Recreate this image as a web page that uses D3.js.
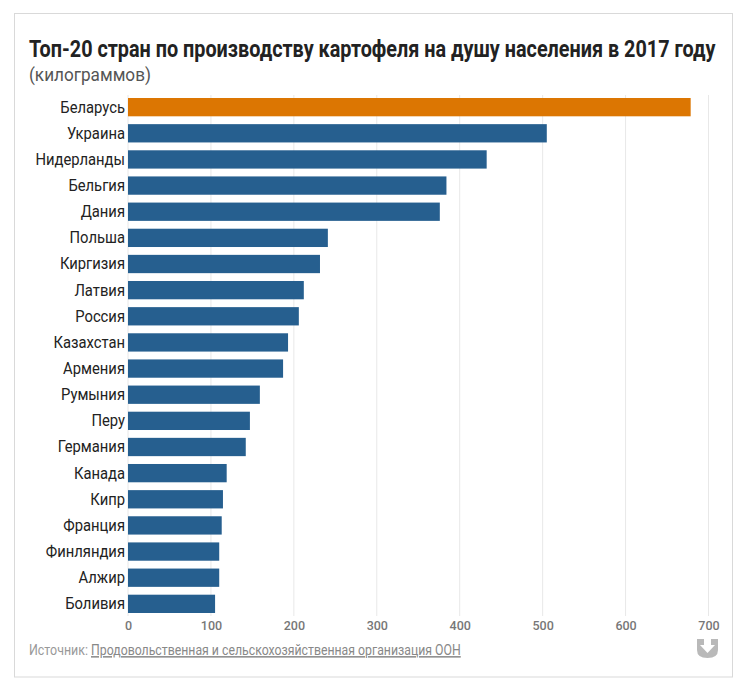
<!DOCTYPE html>
<html>
<head>
<meta charset="utf-8">
<script src="https://cdn.jsdelivr.net/npm/d3@7"></script>
<style>
  body { margin: 0; background: #fff; }
  text { font-family: Roboto, sans-serif; }
  .title { font-size: 23px; font-weight: 700; fill: #222; }
  .subtitle { font-size: 19px; fill: #555; }
  .y.axis text { font-size: 17px; fill: #222; }
  .x.axis text { font-size: 12.5px; font-weight: 500; fill: #777; }
  .source { font-size: 15px; fill: #999; }
  .source-link { fill: #888; text-decoration: underline; }
  .grid line { stroke: #e8e8e8; stroke-width: 1; }
</style>
</head>
<body>
<svg width="746" height="685"></svg>
<script>
var countries = ["Беларусь", "Украина", "Нидерланды", "Бельгия", "Дания", "Польша", "Киргизия",
  "Латвия", "Россия", "Казахстан", "Армения", "Румыния", "Перу", "Германия", "Канада", "Кипр",
  "Франция", "Финляндия", "Алжир", "Боливия"];
var kilograms = [678.5, 505, 432.5, 384, 376, 241, 231.5, 212, 206, 193, 187, 159, 147, 142, 119, 114.5, 113, 110, 110, 105];
var xTicks = [0, 100, 200, 300, 400, 500, 600, 700];

var svg = d3.select("svg"),
    margin = {top: 95, right: 37.5, bottom: 69, left: 128},
    width = +svg.attr("width") - margin.left - margin.right,
    height = +svg.attr("height") - margin.top - margin.bottom;

// the original font is condensed, so squeeze Roboto to the wanted width
function addText(cls, px, py, w, str) {
  var t = svg.append("text").attr("class", cls).text(str);
  var k = w / t.node().getComputedTextLength();
  t.attr("transform", "translate(" + px + "," + py + ") scale(" + k + ",1)");
}

// frame
svg.append("rect")
    .attr("x", 14.5).attr("y", 13.5)
    .attr("width", 718).attr("height", 663.5)
    .attr("fill", "#fff").attr("stroke", "#d9d9d9");

// add scales
var x = d3.scaleLinear().domain([0, 700]).range([0, width]),
    y = d3.scaleBand().domain(countries).range([0, height]).paddingInner(0.3).paddingOuter(0.115);

var chart = svg.append("g")
    .attr("transform", "translate(" + margin.left + "," + margin.top + ")");

// gridlines
chart.append("g")
    .attr("class", "grid")
    .selectAll("line")
    .data(xTicks)
  .enter().append("line")
    .attr("x1", function(d) { return x(d); })
    .attr("x2", function(d) { return x(d); })
    .attr("y1", 0)
    .attr("y2", height);

// x-axis
chart.append("g")
    .attr("class", "x axis")
    .attr("transform", "translate(0," + height + ")")
    .call(d3.axisBottom(x).tickValues(xTicks).tickSize(0).tickPadding(5))
    .call(function(g) { g.select(".domain").remove(); });

// y-axis
chart.append("g")
    .attr("class", "y axis")
    .call(d3.axisLeft(y).tickSize(0).tickPadding(0))
    .call(function(g) { g.select(".domain").remove(); })
    .selectAll("text")
    .attr("x", 0)
    .attr("transform", "translate(-3,0) scale(0.87,1)");

// bars
chart.selectAll(".bar")
    .data(countries)
  .enter().append("rect")
    .attr("class", "bar")
    .attr("x", 0)
    .attr("y", function(d) { return y(d); })
    .attr("width", function(d, i) { return x(kilograms[i]); })
    .attr("height", y.bandwidth())
    .attr("fill", function(d, i) { return i === 0 ? "#dc7602" : "#265f8f"; });

// title block
addText("title", 29, 57, 687, "Топ-20 стран по производству картофеля на душу населения в 2017 году");
addText("subtitle", 29, 81, 122, "(килограммов)");

// source
addText("source", 29, 655, 59, "Источник:");
addText("source source-link", 91, 655, 370, "Продовольственная и сельскохозяйственная организация ООН");

// logo
svg.append("path")
    .attr("d", "M697 639H704V645H700L707.5 653L715 645H711V639H718V650Q718 658 707.5 658Q697 658 697 650Z")
    .attr("fill", "#b9b9b9");
</script>
</body>
</html>
